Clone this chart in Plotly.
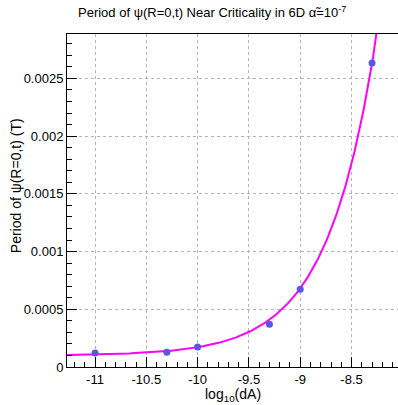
import numpy as np
import plotly.graph_objects as go

# Measured oscillation period at the origin versus log10 of the amplitude offset
log_dA = [-11.0, -10.3, -10.0, -9.3, -9.0, -8.3]
period = [0.000122, 0.000128, 0.000174, 0.000371, 0.000674, 0.002634]

# Exponential fit: T = p0 + p1 * exp(p2 * (x - x_ref))
fit_p0 = 0.000100
fit_p1 = 0.00253
fit_p2 = 2.10
fit_xref = -8.3

x_range = [-11.273, -8.047]
y_range = [0.0, 0.002885]

y_ticks = [0, 0.0005, 0.001, 0.0015, 0.002, 0.0025]
y_ticktext = ["0", "0.0005", "0.001", "0.0015", "0.002", "0.0025"]
x_ticks = [-11, -10.5, -10, -9.5, -9, -8.5]
x_ticktext = ["-11", "-10.5", "-10", "-9.5", "-9", "-8.5"]

xf = np.linspace(x_range[0], x_range[1], 400)
yf = fit_p0 + fit_p1 * np.exp(fit_p2 * (xf - fit_xref))

fig = go.Figure()
fig.add_trace(go.Scatter(x=xf, y=yf, mode="lines",
                         line=dict(color="#ff00ff", width=2),
                         hoverinfo="skip", showlegend=False))
fig.add_trace(go.Scatter(x=log_dA, y=period, mode="markers",
                         marker=dict(color="#5b55e6", size=7, line=dict(width=0)),
                         showlegend=False))

font = "Liberation Sans, Arial, sans-serif"
axis_common = dict(
    showline=True, linecolor="black", linewidth=1,
    ticks="inside", ticklen=10, tickcolor="black", tickwidth=1,
    showgrid=True, gridcolor="#b4b4b4", griddash="dot", gridwidth=1,
    zeroline=False, tickfont=dict(family=font, size=13, color="black"),
)

fig.update_xaxes(range=x_range, tickvals=x_ticks, ticktext=x_ticktext,
                 mirror=True,
                 minor=dict(ticks="inside", dtick=0.1, tick0=-11, ticklen=5,
                            tickcolor="black", showgrid=False),
                 **axis_common)
fig.update_yaxes(range=y_range, tickvals=y_ticks, ticktext=y_ticktext,
                 mirror=False,
                 minor=dict(ticks="inside", dtick=0.0001, tick0=0, ticklen=5,
                            tickcolor="black", showgrid=False),
                 **axis_common)

fig.update_layout(
    width=398, height=405,
    margin=dict(l=67, r=0, t=34, b=38),
    paper_bgcolor="white", plot_bgcolor="white",
    font=dict(family=font, size=13, color="black"),
    annotations=[
        dict(text="Period of ψ(R=0,t) Near Criticality in 6D α̃=10<sup>-7</sup>",
             x=(212 - 67) / 331, y=1 + (34 - 12) / 333,
             xref="paper", yref="paper", xanchor="center", yanchor="middle",
             showarrow=False, font=dict(size=13)),
        dict(text="log<sub>10</sub>(dA)", x=0.5, y=-0.052, xref="paper",
             yref="paper", xanchor="center", yanchor="top", showarrow=False,
             font=dict(size=14)),
        dict(text="Period of ψ(R=0,t) (T)", x=-0.155, y=0.545, xref="paper",
             yref="paper", xanchor="center", yanchor="middle", textangle=-90,
             showarrow=False, font=dict(size=14)),
    ],
)

fig.write_html("out.html")
